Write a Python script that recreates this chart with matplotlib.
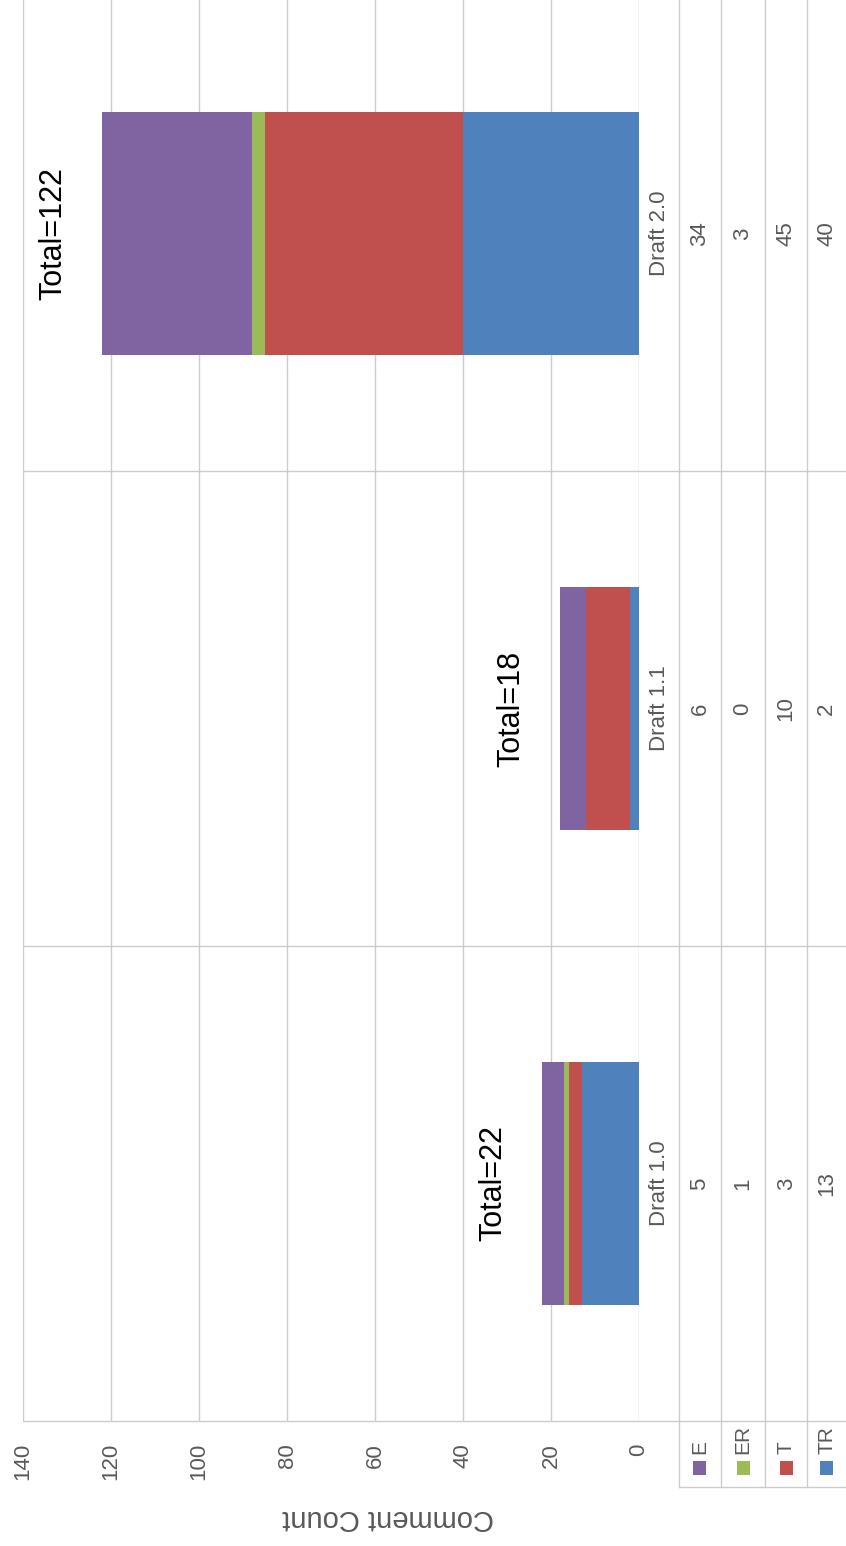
import matplotlib
matplotlib.use("Agg")
import matplotlib.pyplot as plt
import matplotlib.transforms as mtransforms
from matplotlib.patches import Rectangle

plt.rcParams["font.family"] = ["Liberation Sans", "DejaVu Sans"]

# chart data (Excel stacked column chart, picture is rotated 90 deg CCW)
drafts = ["Draft 1.0", "Draft 1.1", "Draft 2.0"]
series_names = ["E", "ER", "T", "TR"]
e_counts = [5, 6, 34]
er_counts = [1, 0, 3]
t_counts = [3, 10, 45]
tr_counts = [13, 2, 40]
value_ticks = [0, 20, 40, 60, 80, 100, 120, 140]

series_values = {"E": e_counts, "ER": er_counts, "T": t_counts, "TR": tr_counts}
series_colors = {"E": "#8064A2", "ER": "#9BBB59", "T": "#C0504D", "TR": "#4F81BD"}

GRID = "#CCCCCC"
TEXT = "#595959"

fig = plt.figure(figsize=(8.46, 15.46), dpi=100)
# plot area in pixels: x 23..639, y -4..1421 (from top)
ax = fig.add_axes([23 / 846, (1546 - 1421) / 1546, 616 / 846, 1425 / 1546])

cats = list(range(len(drafts)))
left = [0] * len(drafts)
for name in ["TR", "T", "ER", "E"]:
    vals = series_values[name]
    ax.barh(cats, vals, left=left, height=0.51, color=series_colors[name],
            edgecolor="none", zorder=3)
    left = [l + v for l, v in zip(left, vals)]

totals = left
for i, total in enumerate(totals):
    ax.text(total + 11, i, f"Total={total}", rotation=90, ha="center", va="center",
            fontsize=22, color="black", zorder=4, clip_on=False)

ax.set_xlim(140, 0)
ax.set_ylim(-0.5, len(drafts) - 0.5)
ax.set_xticks(value_ticks)
ax.set_xticklabels([str(v) for v in value_ticks])
ax.set_yticks([])
ax.tick_params(axis="x", length=0, pad=16, labelsize=16, labelcolor=TEXT,
               labelrotation=90)
ax.grid(axis="x", color=GRID, linewidth=1, zorder=0)
for sp in ax.spines.values():
    sp.set_visible(False)

blend = mtransforms.blended_transform_factory(ax.transAxes, ax.transData)

# table column edges (axes fraction): category name, E, ER, T, TR
edges = [1.0, 1.065, 1.133, 1.205, 1.273, 1.336]
centers = [(a + b) / 2 for a, b in zip(edges[:-1], edges[1:])]
table_bottom = -0.046

# axis line and category separators across plot + table
for yv in [c - 0.5 for c in cats]:
    ax.plot([0, edges[-1]], [yv, yv], color=GRID, linewidth=1, transform=blend,
            clip_on=False, zorder=1)
for xe in edges[1:-1]:
    ax.plot([xe, xe], [table_bottom, 1.0], color=GRID, linewidth=1,
            transform=ax.transAxes, clip_on=False, zorder=1)
ax.plot([edges[1], edges[-1]], [table_bottom, table_bottom], color=GRID,
        linewidth=1, transform=ax.transAxes, clip_on=False, zorder=1)

# table contents
for i, draft in enumerate(drafts):
    ax.text(centers[0], i, draft, rotation=90, ha="center", va="center",
            fontsize=16, color=TEXT, transform=blend, clip_on=False)
    for j, name in enumerate(series_names):
        ax.text(centers[j + 1], i, str(series_values[name][i]), rotation=90,
                ha="center", va="center", fontsize=16, color=TEXT,
                transform=blend, clip_on=False)

# row headers with legend keys
sq_w, sq_h = 13 / 616, 14 / 1425
for j, name in enumerate(series_names):
    cx = centers[j + 1]
    ax.text(cx, -0.023, name, rotation=90, ha="center", va="bottom",
            fontsize=15, color=TEXT, transform=ax.transAxes, clip_on=False)
    ax.add_patch(Rectangle((cx - sq_w / 2, -0.033 - sq_h / 2), sq_w, sq_h,
                           facecolor=series_colors[name], edgecolor="none",
                           transform=ax.transAxes, clip_on=False))

fig.text(388 / 846, 1 - 1518 / 1546, "Comment Count", rotation=180, ha="center",
         va="center", fontsize=21, color=TEXT)

fig.savefig("out.png", dpi=100)
plt.close(fig)
